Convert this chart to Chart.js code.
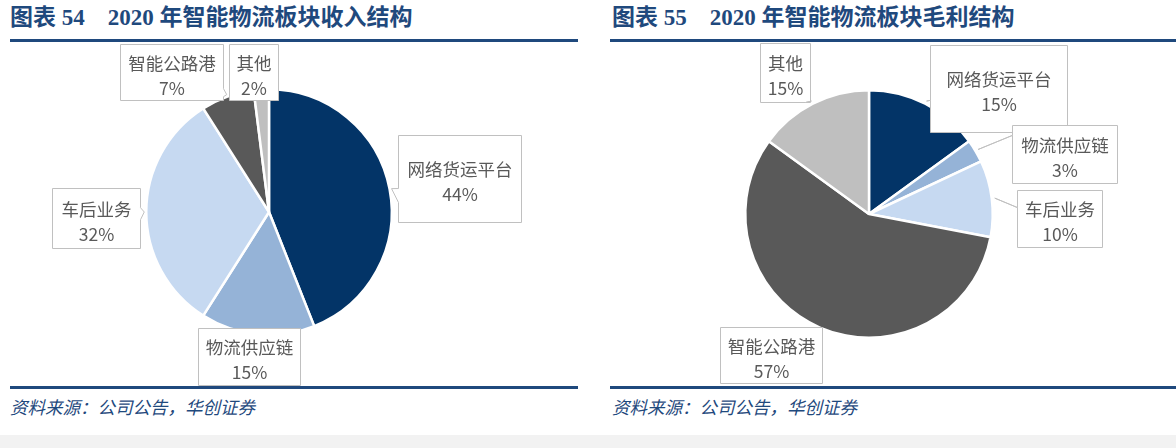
<!DOCTYPE html>
<html>
<head>
<meta charset="utf-8">
<script src="https://cdn.jsdelivr.net/npm/chart.js@4.4.1/dist/chart.umd.min.js"></script>
<style>
  html, body { margin: 0; padding: 0; background: #ffffff; }
  #page { position: relative; width: 1176px; height: 448px; overflow: hidden; background: #ffffff; }
  .title { position: absolute; top: 3px; white-space: pre; color: #1f497d; font-weight: bold;
           font-family: "Liberation Serif", "Noto Sans CJK SC", serif; font-size: 23px; line-height: 30px; }
  .rule { position: absolute; height: 3px; background: #1f497d; }
  .source { position: absolute; top: 395px; white-space: pre; color: #1f497d; font-style: italic;
            font-family: "Noto Sans CJK SC", sans-serif; font-size: 17.5px; line-height: 24px; }
  .band { position: absolute; left: 0; top: 435px; width: 1176px; height: 13px; background: #f2f2f2; }
  canvas { position: absolute; top: 0; }
</style>
</head>
<body>
<div id="page">
  <div class="title" id="t1" style="left:10px;"></div>
  <div class="title" id="t2" style="left:612px;"></div>
  <div class="rule" style="left:10px; top:39px; width:568px;"></div>
  <div class="rule" style="left:610px; top:39px; width:566px;"></div>
  <div class="rule" style="left:10px; top:386px; width:568px;"></div>
  <div class="rule" style="left:610px; top:386px; width:566px;"></div>
  <div class="source" id="s1" style="left:10px;"></div>
  <div class="source" id="s2" style="left:612px;"></div>
  <div class="band"></div>
  <canvas id="c1" width="590" height="448" style="left:0px;"></canvas>
  <canvas id="c2" width="586" height="448" style="left:590px;"></canvas>
</div>
<script>
// ---------------- data ----------------
const categories = ['网络货运平台', '物流供应链', '车后业务', '智能公路港', '其他'];
const revenueShare = [44, 15, 32, 7, 2];        // 图表54 收入结构 (%)
const grossProfitShare = [15, 3, 10, 57, 15];   // 图表55 毛利结构 (%)
const title1 = '图表 54    2020 年智能物流板块收入结构';
const title2 = '图表 55    2020 年智能物流板块毛利结构';
const sourceText = '资料来源：公司公告，华创证券';

// ---------------- style ----------------
const sliceColors = ['#033467', '#95b3d7', '#c6d9f1', '#595959', '#bfbfbf'];

// label boxes: offset from pie centre (dx, dy), size (w, h); callout attach: side, fraction, half base width
const layout1 = [
  { dx: 129, dy: -77, w: 123, h: 87, side: 'l', frac: 0.69, half: 7 },
  { dx: -71, dy: 116, w: 102, h: 57, side: null },
  { dx: -217, dy: -24, w: 88, h: 60, side: 'r', frac: 0.42, half: 6 },
  { dx: -149, dy: -168, w: 103, h: 56, side: 'r', frac: 0.86, half: 4 },
  { dx: -40, dy: -168, w: 49, h: 56, side: null }
];
const layout2 = [
  { dx: 61, dy: -169, w: 137, h: 87, side: 'l', frac: 0.63, half: 0 },
  { dx: 143, dy: -89, w: 105, h: 58, side: 'l', frac: 0.17, half: 0 },
  { dx: 148, dy: -24, w: 85, h: 57, side: 'l', frac: 0.30, half: 0 },
  { dx: -149, dy: 113, w: 102, h: 56, side: null },
  { dx: -109, dy: -171, w: 50, h: 59, side: 'b', frac: 0.9, half: 0 }
];

document.getElementById('t1').textContent = title1;
document.getElementById('t2').textContent = title2;
document.getElementById('s1').textContent = sourceText;
document.getElementById('s2').textContent = sourceText;

function calloutPath(ctx, b, tip, L) {
  const x = b.x, y = b.y, w = b.w, h = b.h;
  const pts = [];
  pts.push([x, y]);
  if (L.side === 't') { const px = x + L.frac * w; pts.push([px - L.half, y], tip, [px + L.half, y]); }
  pts.push([x + w, y]);
  if (L.side === 'r') { const py = y + L.frac * h; pts.push([x + w, py - L.half], tip, [x + w, py + L.half]); }
  pts.push([x + w, y + h]);
  if (L.side === 'b') { const px = x + L.frac * w; pts.push([px + L.half, y + h], tip, [px - L.half, y + h]); }
  pts.push([x, y + h]);
  if (L.side === 'l') { const py = y + L.frac * h; pts.push([x, py + L.half], tip, [x, py - L.half]); }
  ctx.beginPath();
  pts.forEach((p, i) => i === 0 ? ctx.moveTo(p[0], p[1]) : ctx.lineTo(p[0], p[1]));
  ctx.closePath();
}

function makeLabelPlugin(layout, tipPad) {
  return {
    id: 'calloutLabels',
    afterDatasetsDraw(chart) {
      const ctx = chart.ctx;
      const meta = chart.getDatasetMeta(0);
      const values = chart.data.datasets[0].data;
      ctx.save();
      meta.data.forEach((arc, i) => {
        const p = arc.getProps(['x', 'y', 'startAngle', 'endAngle', 'outerRadius'], true);
        const L = layout[i];
        const mid = (p.startAngle + p.endAngle) / 2;
        const tip = [p.x + Math.cos(mid) * (p.outerRadius + tipPad), p.y + Math.sin(mid) * (p.outerRadius + tipPad)];
        const b = { x: Math.round(p.x + L.dx) + 0.5, y: Math.round(p.y + L.dy) + 0.5, w: L.w, h: L.h };
        calloutPath(ctx, b, tip, L);
        ctx.fillStyle = '#ffffff';
        ctx.fill();
        ctx.lineWidth = 1;
        ctx.lineJoin = 'round';
        ctx.strokeStyle = '#c0c0c0';
        ctx.stroke();
        ctx.fillStyle = '#595959';
        ctx.font = '17.5px "Noto Sans CJK SC", sans-serif';
        ctx.textAlign = 'center';
        ctx.textBaseline = 'middle';
        const cx = b.x + b.w / 2, cy = b.y + b.h / 2 + 3;
        ctx.fillText(chart.data.labels[i], cx, cy - 12.5);
        ctx.fillText(values[i] + '%', cx, cy + 12.5);
      });
      ctx.restore();
    }
  };
}

function makePie(id, values, layout, padding, tipPad) {
  return new Chart(document.getElementById(id), {
    type: 'pie',
    data: {
      labels: categories,
      datasets: [{
        data: values,
        backgroundColor: sliceColors,
        borderColor: '#ffffff',
        borderWidth: 2.5,
        hoverOffset: 0
      }]
    },
    options: {
      responsive: false,
      animation: false,
      layout: { padding: padding },
      plugins: { legend: { display: false }, tooltip: { enabled: false } }
    },
    plugins: [makeLabelPlugin(layout, tipPad)]
  });
}

makePie('c1', revenueShare, layout1, { left: 145, top: 88, right: 197, bottom: 112 }, 2);
makePie('c2', grossProfitShare, layout2, { left: 154, top: 89, right: 182, bottom: 109 }, 3);
</script>
</body>
</html>
